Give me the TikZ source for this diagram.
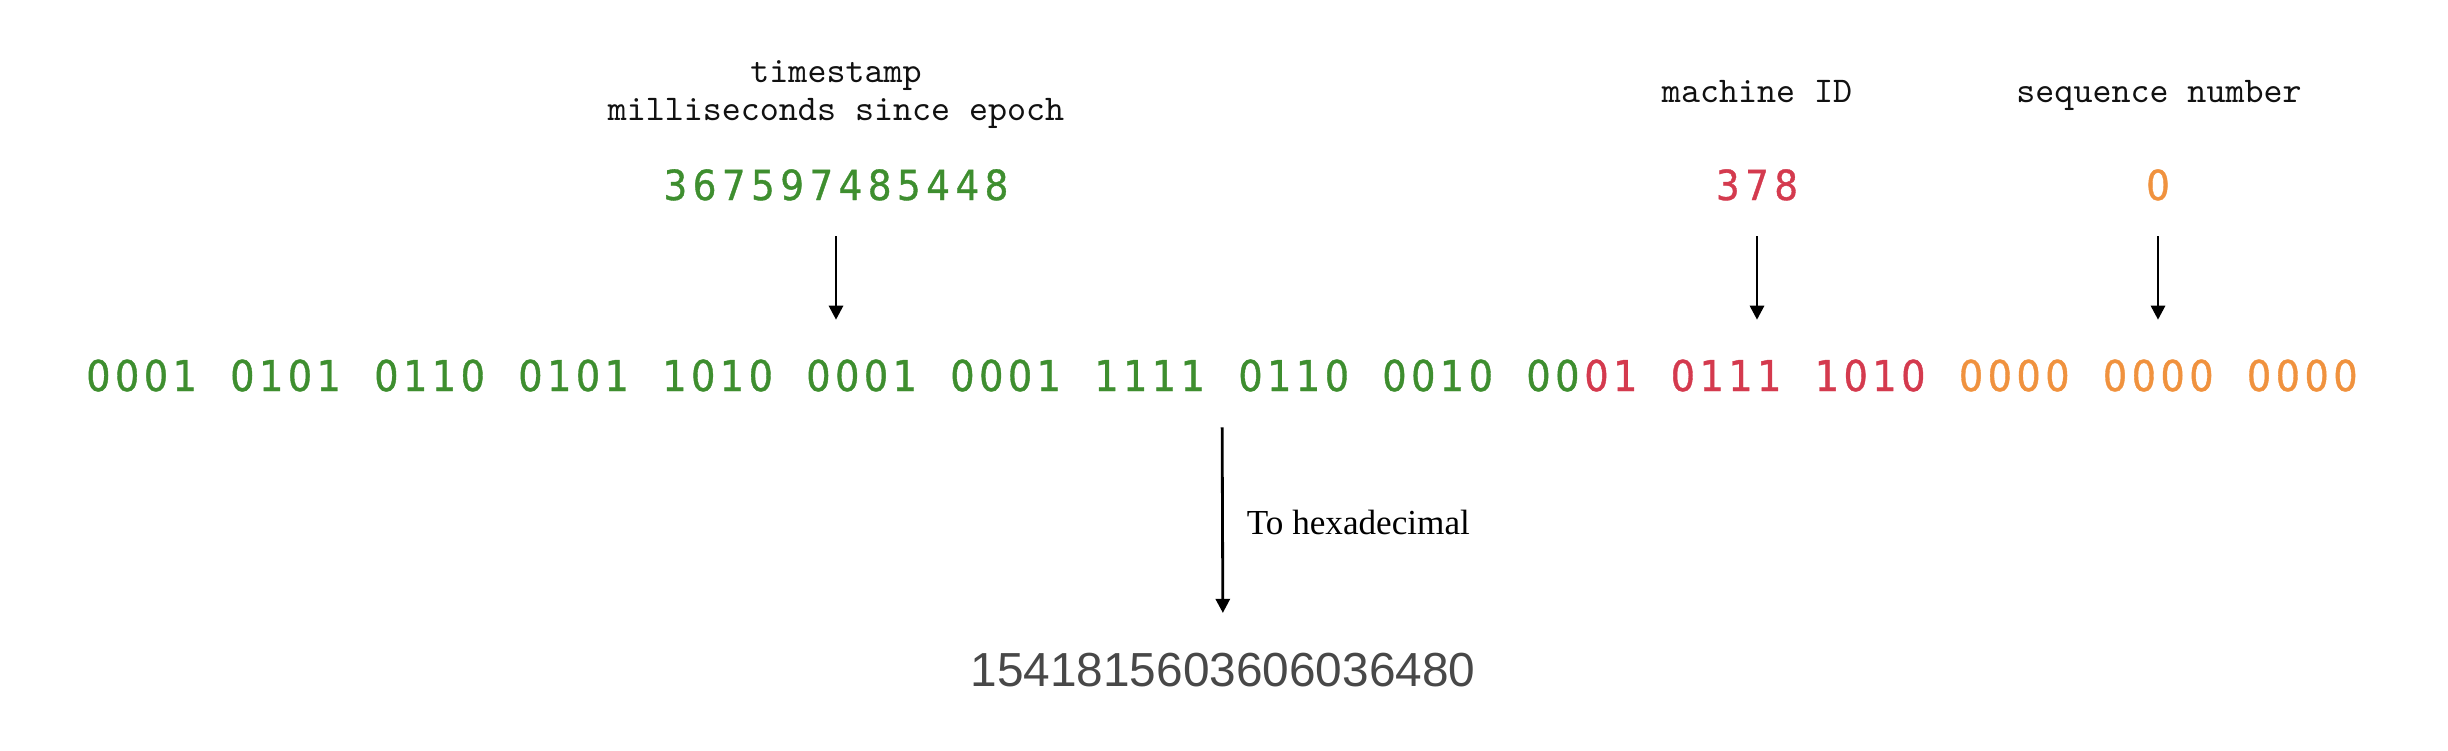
\documentclass[tikz,border=0pt]{standalone}
\usepackage{fontspec}
\setmainfont{Liberation Serif}
\newfontfamily\bitfont[FakeStretch=0.9,FakeBold=0.9]{DejaVu Sans}
\newfontfamily\hexfont{Liberation Sans}
\usepackage{xcolor}
\definecolor{snowGreen}{HTML}{3E8E2F}
\definecolor{snowRed}{HTML}{D43A4E}
\definecolor{snowOrange}{HTML}{F0923E}
\definecolor{snowDark}{HTML}{111111}
\definecolor{snowGray}{HTML}{484848}
\usepackage{tikz}
\usetikzlibrary{arrows.meta,positioning}
% one digit per fixed cell, | gives an empty cell
\newcommand\bitpitch{0.2881cm}
\newcommand\cells[2]{\def\cellwidth{#1}\cellsi#2\relax}
\def\cellsi#1{\ifx#1\relax\else\ifx#1|\hspace*{\cellwidth}\else\makebox[\cellwidth]{#1}\fi\expandafter\cellsi\fi}
\tikzset{
    fieldname/.style={
        font=\ttfamily\fontsize{10.3}{10.6}\selectfont\addfontfeature{FakeBold=0.6},
        text=snowDark,
        align=center,
        inner sep=0pt
    },
    fieldvalue/.style={
        font=\bitfont\fontsize{11.8}{12}\selectfont,
        anchor=base,
        inner sep=0pt
    },
    bitrow/.style={
        font=\bitfont\fontsize{12.1}{12}\selectfont,
        anchor=base,
        inner sep=0pt
    },
    result/.style={
        font=\hexfont\fontsize{13.6}{14}\selectfont,
        text=snowGray,
        anchor=base,
        inner sep=0pt
    },
    arrow/.style={
        -{Triangle[length=4pt,width=4pt]},
        line width=0.8pt,
        color=black
    },
    label/.style={
        font=\fontsize{10}{12}\selectfont,
        midway,
        right=0.23cm,
        inner sep=0pt
    }
}
\begin{document}
\begin{tikzpicture}
    \useasboundingbox (0,0) rectangle (24.48,7.5);

    % Field names
    \node[fieldname] (tsname) at (8.36,6.555) {timestamp\\milliseconds since epoch};
    \node[fieldname, anchor=base] (machname) at (17.57,6.47) {machine ID};
    \node[fieldname, anchor=base] (seqname) at (21.59,6.47) {sequence number};

    % Field values
    \node[fieldvalue, text=snowGreen] (tsval) at (8.36,5.50) {\cells{0.292cm}{367597485448}};
    \node[fieldvalue, text=snowRed] (machval) at (17.57,5.50) {\cells{0.292cm}{378}};
    \node[fieldvalue, text=snowOrange] (seqval) at (21.58,5.50) {\cells{0.292cm}{0}};

    % Binary layout
    \node[bitrow] (bits) at (12.22,3.59)
        {\textcolor{snowGreen}{\cells{\bitpitch}{0001|0101|0110|0101|1010|0001|0001|1111|0110|0010|00}}%
         \textcolor{snowRed}{\cells{\bitpitch}{01|0111|1010|}}%
         \textcolor{snowOrange}{\cells{\bitpitch}{0000|0000|0000}}};

    % Resulting id
    \node[result] (hexval) at (12.23,0.64) {1541815603606036480};

    % Connections
    \draw[arrow, shorten <=0.35cm, shorten >=0.39cm] (tsval.south) -- (tsval.south |- bits.north);
    \draw[arrow, shorten <=0.35cm, shorten >=0.39cm] (machval.south) -- (machval.south |- bits.north);
    \draw[arrow, shorten <=0.35cm, shorten >=0.39cm] (seqval.south) -- (seqval.south |- bits.north);
    \draw[arrow, shorten <=0.35cm, shorten >=0.39cm] (bits.south) -- (hexval.north)
        node[label] {To hexadecimal};
\end{tikzpicture}
\end{document}
